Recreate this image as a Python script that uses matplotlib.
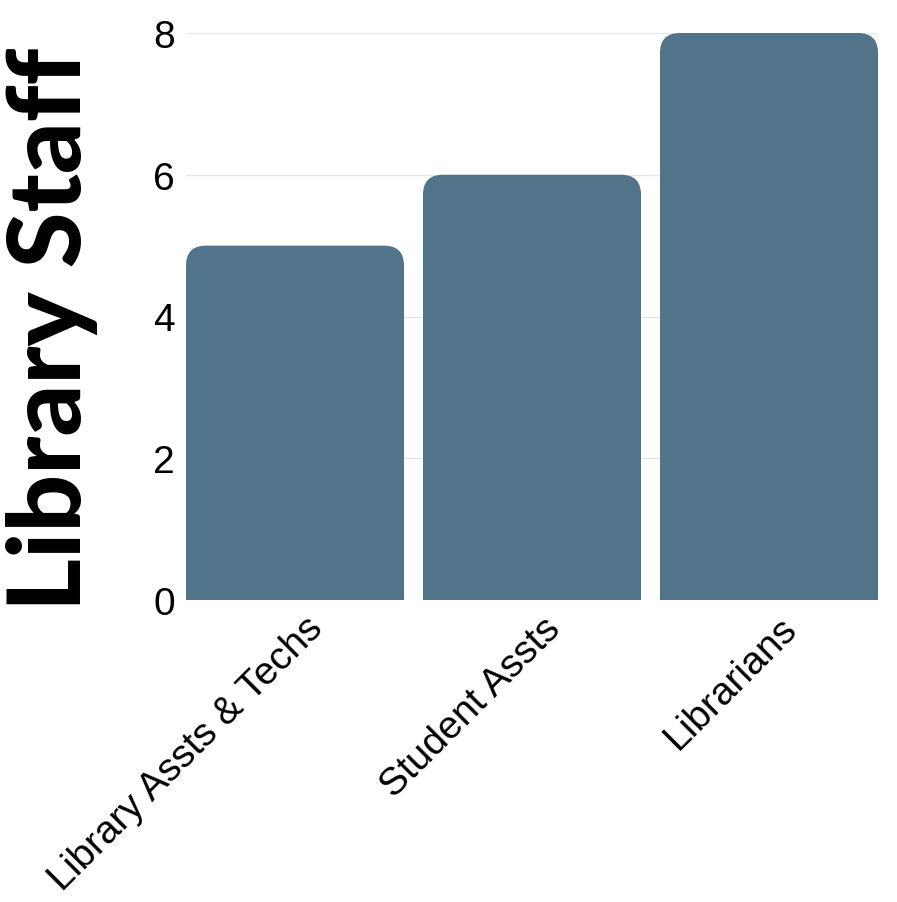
import matplotlib
matplotlib.use("Agg")
import matplotlib.pyplot as plt
from matplotlib.patches import FancyBboxPatch
from matplotlib.transforms import ScaledTranslation

categories = ["Library Assts & Techs", "Student Assts", "Librarians"]
counts = [5, 6, 8]
yticks = [0, 2, 4, 6, 8]

bar_color = "#51748a"

fig = plt.figure(figsize=(8.97, 9.03), dpi=100)
W, H = 897, 903
ax = fig.add_axes([186 / W, 1 - 601 / H, (878 - 186) / W, (601 - 34) / H])

x = list(range(len(categories)))
width = 0.92
ax.set_xlim(-0.46, len(categories) - 1 + 0.46)
ax.set_ylim(0, 8)

# scale between data units on x and y (per pixel)
xpp = (ax.get_xlim()[1] - ax.get_xlim()[0]) / (878 - 186)
ypp = (ax.get_ylim()[1] - ax.get_ylim()[0]) / (601 - 34)
r = 20 * xpp
for xi, v in zip(x, counts):
    # extend below zero so only the top corners show rounded
    p = FancyBboxPatch((xi - width / 2, -1), width, v + 1,
                       boxstyle=f"round,pad=0,rounding_size={r}",
                       mutation_aspect=ypp / xpp,
                       facecolor=bar_color, edgecolor="none", zorder=2)
    ax.add_patch(p)

ax.set_yticks(yticks)
ax.set_yticklabels([str(t) for t in yticks], fontsize=28, family="Liberation Sans")
ax.set_xticks(x)
ax.set_xticklabels(categories, fontsize=28, family="Liberation Sans",
                   rotation=45, ha="right", rotation_mode="anchor")
ax.tick_params(length=0, pad=8)
ax.tick_params(axis="x", pad=7)
shift = ScaledTranslation(10 / 100, 0, fig.dpi_scale_trans)
for lab in ax.get_xticklabels():
    lab.set_transform(lab.get_transform() + shift)
ax.grid(axis="y", color="#e6e6e6", linewidth=1, zorder=0)
ax.set_axisbelow(True)
for s in ax.spines.values():
    s.set_visible(False)

fig.text(52 / W, 1 - 329 / H, "Library Staff", rotation=90, fontsize=73,
         fontweight="black", family="Lato", ha="center", va="center")

fig.savefig("out.png", dpi=100, facecolor="white")
